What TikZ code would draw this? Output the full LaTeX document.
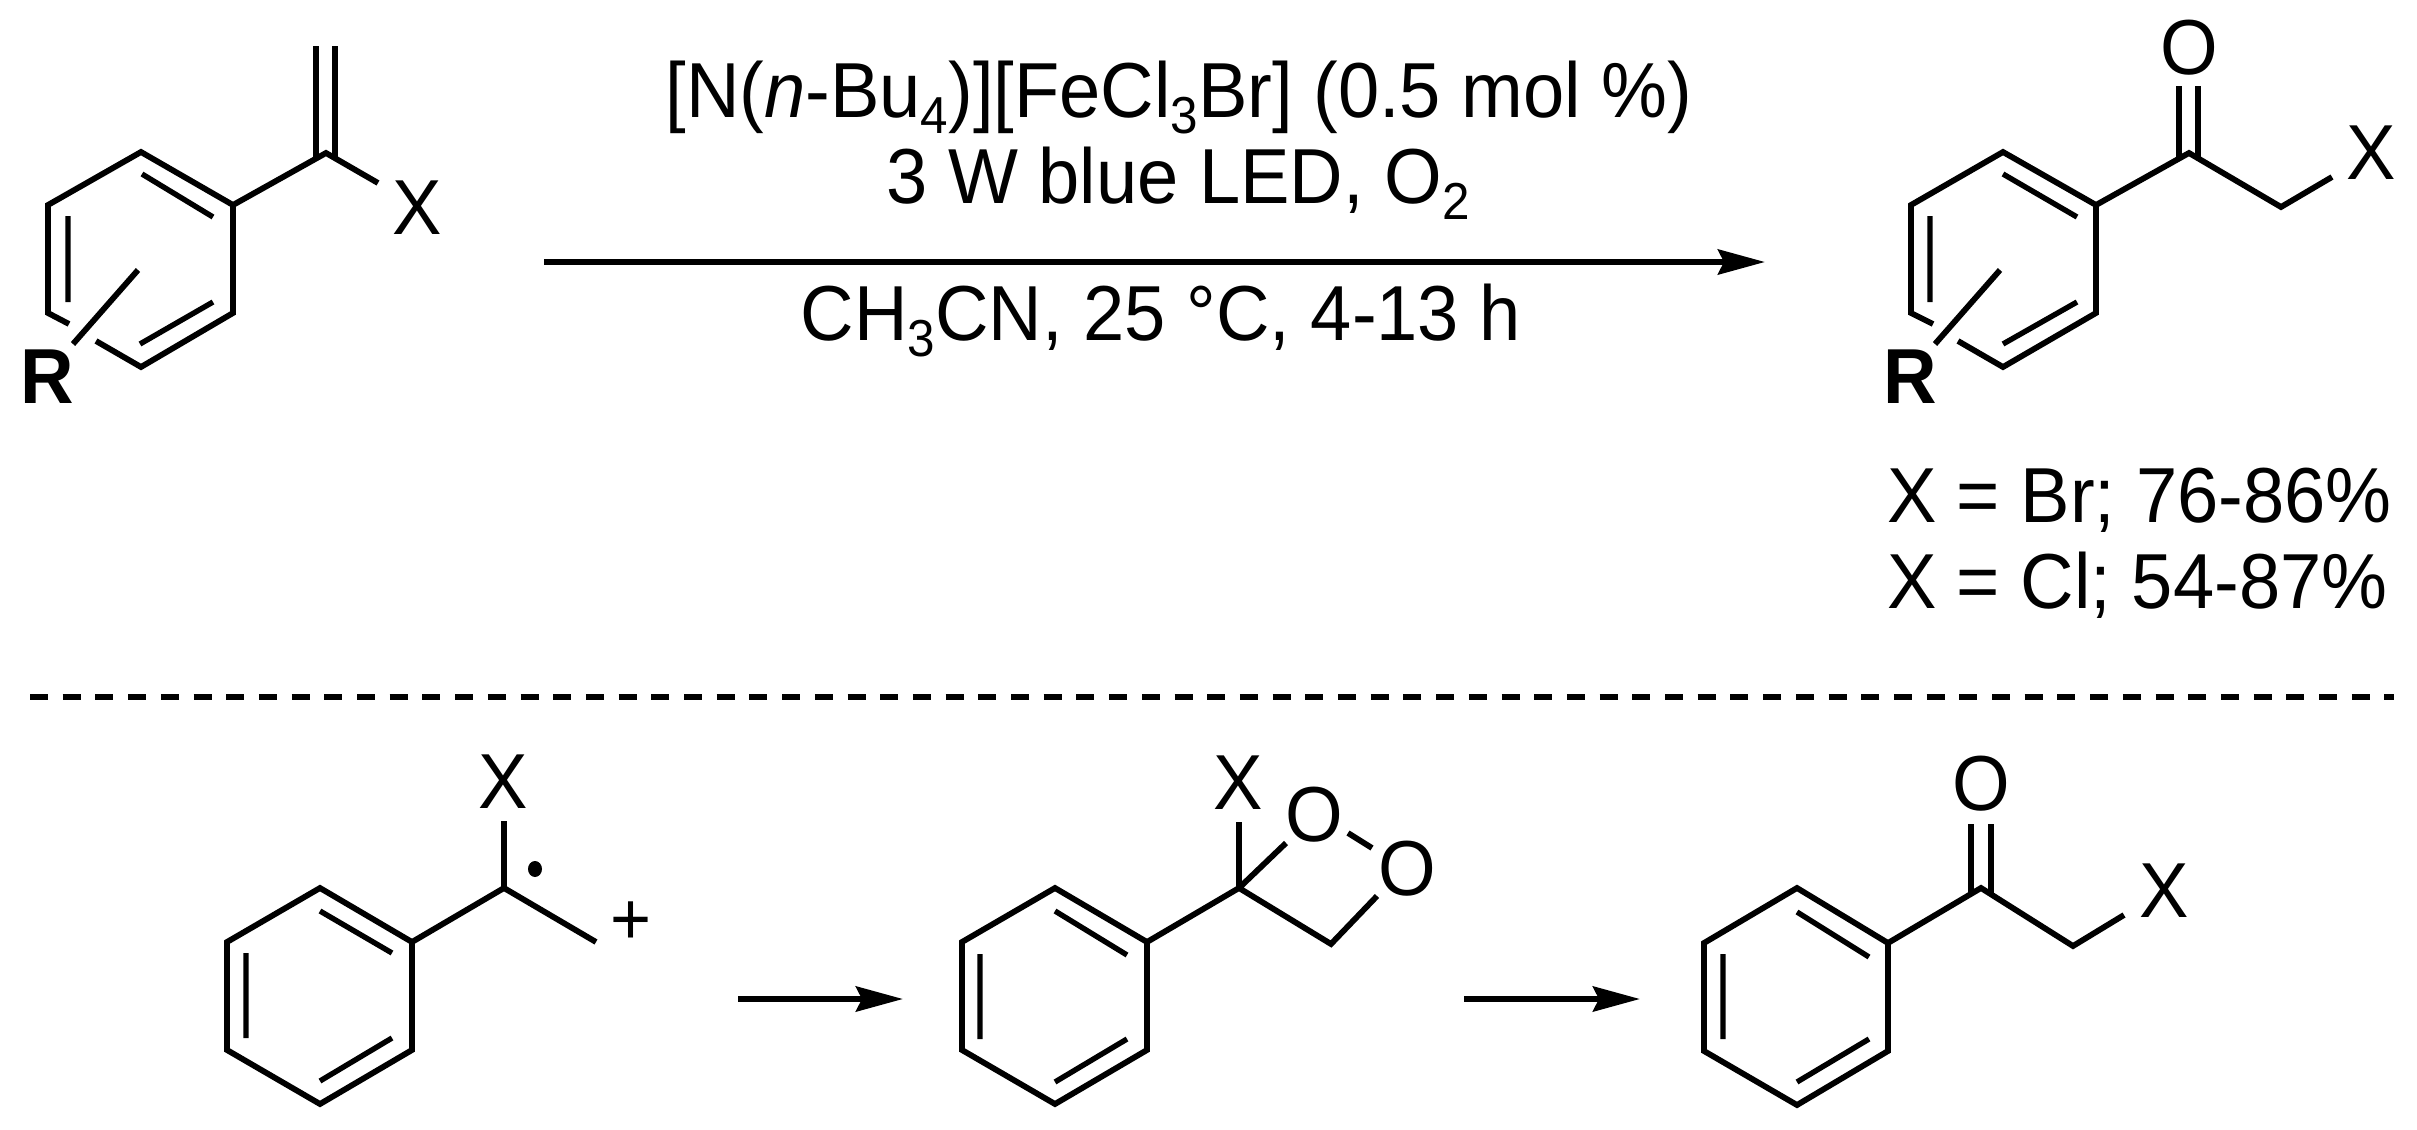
\documentclass[tikz,border=0pt]{standalone}
\usepackage{fontspec}
\setmainfont[FakeStretch=0.95]{Liberation Sans}
\usetikzlibrary{arrows.meta,shapes.geometric}
\newcommand{\chemsubs}[1]{\raisebox{-8pt}{\fontsize{26}{26}\selectfont #1}}
\tikzset{
  bond/.style={line width=2.9pt,line join=miter,line cap=butt,miter limit=10},
  inner/.style={line width=2.7pt,line cap=butt},
  atom/.style={inner sep=0pt,outer sep=0pt,anchor=base,font=\fontsize{39}{42}\selectfont},
  ratom/.style={atom,font=\fontsize{39}{42}\selectfont\bfseries},
  txt/.style={inner sep=0pt,outer sep=0pt,anchor=base,font=\fontsize{39}{42}\selectfont},
  rxn/.style={line width=3pt,-{Stealth[length=23.5pt,width=12.5pt,inset=3pt]}},
  sep/.style={line width=3pt,dash pattern=on 9pt off 7.35pt}
}
\begin{document}
\begin{tikzpicture}[x=0.5pt,y=-0.5pt]
\useasboundingbox (0,0) rectangle (2417,1130);
% --- starting alkene
\foreach \n/\p in {a1/{141,152},a2/{233,205},a3/{233,313},a4/{141,367},a5/{48,313},a6/{48,205},
  av/{326,153},ax/{378,183},ad1/{316,46},ad2/{335,46},ad3/{316,159},ad4/{335,159},
  ai1/{142,174},ai2/{213,217},ai3/{68,216},ai4/{68,302},ai5/{213,302},ai6/{140,344},
  ag1/{69,324},ag2/{96,341},ar1/{138,270},ar2/{73,344}}
  {\coordinate (\n) at (\p);}
\draw[bond] (ag1) -- (a5) -- (a6) -- (a1) -- (a2) -- (a3) -- (a4) -- (ag2);
\draw[bond] (a2) -- (av) -- (ax);
\draw[bond] (ad1) -- (ad3) (ad2) -- (ad4);
\draw[inner] (ai1) -- (ai2) (ai3) -- (ai4) (ai5) -- (ai6);
\draw[bond] (ar1) -- (ar2);
\node[atom] (aX) at (417,234) {X};
\node[ratom] (aR) at (47,403) {R};
% --- conditions
\coordinate (rs) at (544,262);
\coordinate (re) at (1765,262);
\draw[rxn] (rs) -- (re);
\node[txt] (c1) at (1179,117) {[N(\textit{n}-Bu\chemsubs{4})][FeCl\chemsubs{3}Br] (0.5 mol \%)};
\node[txt] (c2) at (1178,203) {3 W blue LED, O\chemsubs{2}};
\node[txt] (c3) at (1161,340) {CH\chemsubs{3}CN, 25 °C, 4-13 h};
% --- product
\foreach \n/\p in {b1/{2003,152},b2/{2096,205},b3/{2096,313},b4/{2003,367},b5/{1911,313},b6/{1911,205},
  bc/{2189,153},bm/{2281,207},bx/{2332,177},bd1/{2179,86},bd2/{2198,86},bd3/{2179,160},bd4/{2198,160},
  bi1/{2003,174},bi2/{2077,217},bi3/{1930,216},bi4/{1930,302},bi5/{2077,302},bi6/{2003,344},
  bg1/{1933,324},bg2/{1958,341},br1/{2000,270},br2/{1935,344}}
  {\coordinate (\n) at (\p);}
\draw[bond] (bg1) -- (b5) -- (b6) -- (b1) -- (b2) -- (b3) -- (b4) -- (bg2);
\draw[bond] (b2) -- (bc) -- (bm) -- (bx);
\draw[bond] (bd1) -- (bd3) (bd2) -- (bd4);
\draw[inner] (bi1) -- (bi2) (bi3) -- (bi4) (bi5) -- (bi6);
\draw[bond] (br1) -- (br2);
\node[atom] (bO) at (2189,74) {O};
\node[atom] (bX) at (2371,179) {X};
\node[ratom] (bR) at (1910,403) {R};
\node[txt,anchor=base west] (y1) at (1887,522) {X = Br; 76-86\%};
\node[txt,anchor=base west] (y2) at (1887,608) {X = Cl; 54-87\%};
% --- separator
\coordinate (ss) at (30,697);
\coordinate (se) at (2394,697);
\draw[sep] (ss) -- (se);
% --- radical cation
\foreach \n/\p in {c1a/{320,888},c2a/{412,942},c3a/{412,1050},c4a/{320,1104},c5a/{227,1050},c6a/{227,942},
  cc/{504,888},cu/{504,821},ce/{596,942},
  ci1/{320,911},ci2/{392,953},ci3/{246,953},ci4/{246,1038},ci5/{392,1038},ci6/{320,1081}}
  {\coordinate (\n) at (\p);}
\draw[bond] (c1a) -- (c2a) -- (c3a) -- (c4a) -- (c5a) -- (c6a) -- cycle;
\draw[bond] (c2a) -- (cc) -- (ce) (cc) -- (cu);
\draw[inner] (ci1) -- (ci2) (ci3) -- (ci4) (ci5) -- (ci6);
\node[atom] (cX) at (503,808) {X};
\node[fill=black,ellipse,inner sep=0pt,minimum width=7pt,minimum height=8pt] (cdot) at (535,869) {};
\node[inner sep=0pt,font=\fontsize{37}{37}\selectfont] (cplus) at (631,923) {+};
% --- arrow 1
\coordinate (a1s) at (738,999);
\coordinate (a1e) at (903,999);
\draw[rxn] (a1s) -- (a1e);
% --- dioxetane
\foreach \n/\p in {d1/{1055,888},d2/{1147,942},d3/{1147,1050},d4/{1055,1104},d5/{962,1050},d6/{962,942},
  dc/{1239,888},du/{1239,822},do/{1286,843},dm/{1331,944},dp/{1377,896},dq1/{1348,833},dq2/{1372,848},
  di1/{1055,911},di2/{1127,955},di3/{980,954},di4/{980,1039},di5/{1127,1039},di6/{1055,1082}}
  {\coordinate (\n) at (\p);}
\draw[bond] (d1) -- (d2) -- (d3) -- (d4) -- (d5) -- (d6) -- cycle;
\draw[bond] (d2) -- (dc) -- (dm) -- (dp) (dc) -- (du) (dc) -- (do) (dq1) -- (dq2);
\draw[inner] (di1) -- (di2) (di3) -- (di4) (di5) -- (di6);
\node[atom] (dX) at (1238,809) {X};
\node[atom] (dO1) at (1314,841) {O};
\node[atom] (dO2) at (1407,895) {O};
% --- arrow 2
\coordinate (a2s) at (1464,999);
\coordinate (a2e) at (1640,999);
\draw[rxn] (a2s) -- (a2e);
% --- final ketone
\foreach \n/\p in {e1/{1797,888},e2/{1888,943},e3/{1888,1051},e4/{1797,1105},e5/{1704,1051},e6/{1704,943},
  ec/{1981,888},em/{2073,946},ex/{2124,915},ed1/{1971,824},ed2/{1991,824},ed3/{1971,893},ed4/{1991,893},
  ei1/{1797,912},ei2/{1869,957},ei3/{1723,954},ei4/{1723,1039},ei5/{1869,1039},ei6/{1797,1082}}
  {\coordinate (\n) at (\p);}
\draw[bond] (e1) -- (e2) -- (e3) -- (e4) -- (e5) -- (e6) -- cycle;
\draw[bond] (e2) -- (ec) -- (em) -- (ex);
\draw[bond] (ed1) -- (ed3) (ed2) -- (ed4);
\draw[inner] (ei1) -- (ei2) (ei3) -- (ei4) (ei5) -- (ei6);
\node[atom] (eO) at (1981,810) {O};
\node[atom] (eX) at (2164,917) {X};
\end{tikzpicture}
\end{document}
